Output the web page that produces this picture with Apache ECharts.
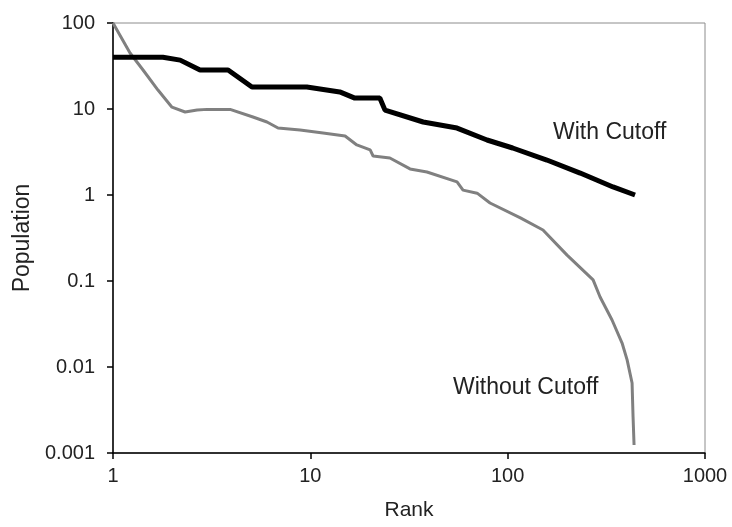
<!DOCTYPE html>
<html>
<head>
<meta charset="utf-8">
<script src="https://cdn.jsdelivr.net/npm/echarts@6/dist/echarts.min.js"></script>
<style>html,body{margin:0;padding:0;background:#fff;}#c{width:732px;height:527px;}</style>
</head>
<body>
<div id="c"></div>
<script>
var rankWith = [1, 1.79, 2.19, 2.76, 3.83, 5.06, 9.6, 14.1, 16.8, 22.5, 23.9, 37.3, 55.4, 78.6, 106, 158, 233, 342, 442];
var popWith = [40, 40, 37, 28.4, 28.4, 18, 18, 15.8, 13.4, 13.4, 9.7, 7.06, 6.0, 4.36, 3.52, 2.55, 1.8, 1.24, 1.0];

var rankWithout = [1, 1.22, 1.42, 1.69, 1.99, 2.32, 2.67, 3.0, 3.92, 5.12, 6.03, 6.86, 8.87, 11.6, 15.0, 17.2, 20.1, 20.8, 25.3, 32.0, 39.0, 55.4, 59.4, 70.0, 81.4, 116, 151, 200, 271, 294, 338, 380, 403, 427, 432, 437];
var popWithout = [100, 44.8, 28.4, 16.6, 10.5, 9.23, 9.73, 9.9, 9.9, 8.07, 7.06, 6.01, 5.70, 5.26, 4.85, 3.82, 3.34, 2.84, 2.69, 2.01, 1.85, 1.42, 1.14, 1.05, 0.807, 0.541, 0.392, 0.200, 0.103, 0.0652, 0.0352, 0.0190, 0.0121, 0.00652, 0.00262, 0.00124];

var xTicks = ['1', '10', '100', '1000'];
var yTicks = ['0.001', '0.01', '0.1', '1', '10', '100'];
var labelWith = 'With Cutoff';
var labelWithout = 'Without Cutoff';

function pairs(xs, ys) { return xs.map(function (x, i) { return [x, ys[i]]; }); }
function fmt(list) {
  return function (v) {
    for (var i = 0; i < list.length; i++) {
      if (Math.abs(parseFloat(list[i]) - v) / v < 1e-6) return list[i];
    }
    return '';
  };
}

var FONT = 'Liberation Sans, Arial, sans-serif';
var chart = echarts.init(document.getElementById('c'));
chart.setOption({
  animation: false,
  grid: { left: 113, right: 27, top: 23, bottom: 74, show: true, borderColor: '#8c8c8c', borderWidth: 1, backgroundColor: '#fff' },
  xAxis: {
    type: 'log', logBase: 10, min: 1, max: 1000,
    name: 'Rank', nameLocation: 'middle', nameGap: 47,
    nameTextStyle: { fontFamily: FONT, fontSize: 21, color: '#222' },
    axisLine: { show: true, lineStyle: { color: '#000', width: 1.5 } },
    axisTick: { show: true, length: 6, lineStyle: { color: '#000', width: 1.5 } },
    minorTick: { show: false },
    splitLine: { show: false },
    axisLabel: { formatter: fmt(xTicks), fontFamily: FONT, fontSize: 20, color: '#222', margin: 13 }
  },
  yAxis: {
    type: 'log', logBase: 10, min: 0.001, max: 100,
    name: 'Population', nameLocation: 'middle', nameGap: 79,
    nameTextStyle: { fontFamily: FONT, fontSize: 23, color: '#222' },
    axisLine: { show: true, lineStyle: { color: '#000', width: 1.5 } },
    axisTick: { show: true, length: 6, lineStyle: { color: '#000', width: 1.5 } },
    splitLine: { show: false },
    axisLabel: { formatter: fmt(yTicks), fontFamily: FONT, fontSize: 20, color: '#222', margin: 18 }
  },
  series: [
    {
      name: labelWithout, type: 'line', showSymbol: false, symbol: 'none',
      data: pairs(rankWithout, popWithout),
      lineStyle: { color: '#808080', width: 3 }, z: 2
    },
    {
      name: labelWith, type: 'line', showSymbol: false, symbol: 'none',
      data: pairs(rankWith, popWith),
      lineStyle: { color: '#000', width: 5 }, z: 3
    }
  ],
  graphic: [
    { type: 'text', left: 553, top: 121, style: { text: labelWith, font: '23px ' + FONT, fill: '#222' } },
    { type: 'text', left: 453, top: 376, style: { text: labelWithout, font: '23px ' + FONT, fill: '#222' } }
  ]
});
</script>
</body>
</html>
